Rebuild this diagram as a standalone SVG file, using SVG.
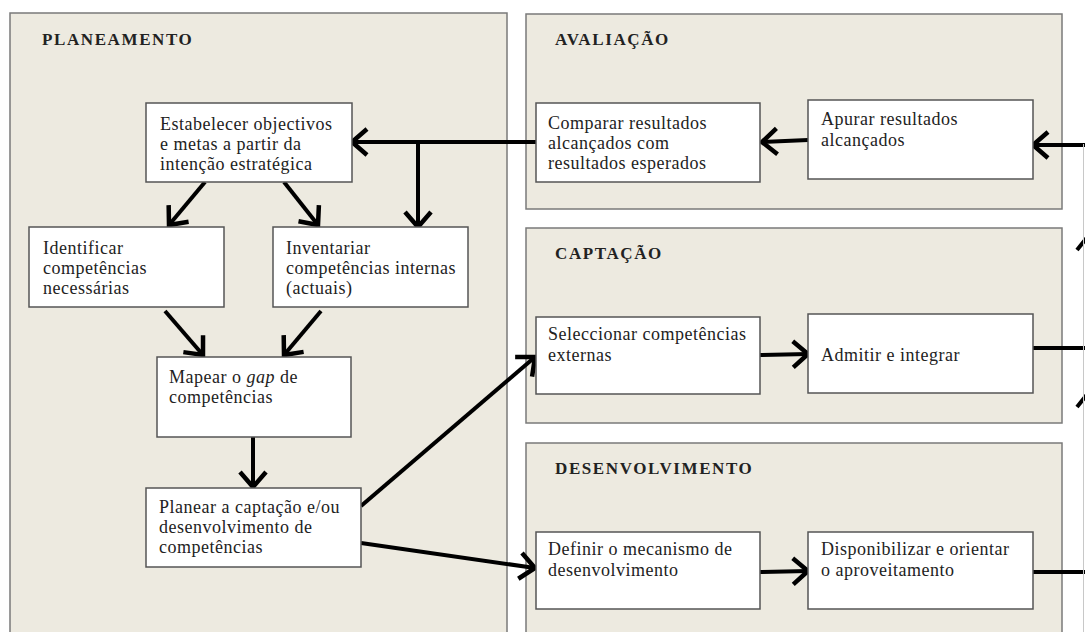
<svg xmlns="http://www.w3.org/2000/svg" width="1085" height="632" viewBox="0 0 1085 632">
<style>
.panel{fill:#EDEAE0;stroke:#7a7a7a;stroke-width:1.5}
.box{fill:#ffffff;stroke:#555555;stroke-width:1.5}
.title{font-family:"Liberation Serif",serif;font-weight:bold;font-size:17px;letter-spacing:1.6px;fill:#222}
.t{font-family:"Liberation Serif",serif;font-size:18px;letter-spacing:0.5px;fill:#222}
.c{fill:none;stroke:#000;stroke-width:4}
.ah{fill:none;stroke:#000;stroke-width:4;stroke-linejoin:miter}
</style>
<defs>
<marker id="arr" markerUnits="userSpaceOnUse" viewBox="-20 -18 26 36" markerWidth="26" markerHeight="36" refX="0" refY="0" orient="auto">
<path d="M-15,-13 L0,0 L-15,13" fill="none" stroke="#000" stroke-width="4.5"/>
</marker>
</defs>
<rect width="1085" height="632" fill="#ffffff"/>
<g id="panels">
<g id="planeamento"><rect class="panel" x="10" y="13" width="497" height="640"/><text class="title" x="42" y="45">PLANEAMENTO</text></g>
<g id="avaliacao"><rect class="panel" x="526" y="14" width="536" height="195"/><text class="title" x="555" y="45">AVALIAÇÃO</text></g>
<g id="captacao"><rect class="panel" x="526" y="228" width="536" height="195"/><text class="title" x="555" y="259">CAPTAÇÃO</text></g>
<g id="desenvolvimento"><rect class="panel" x="526" y="443" width="536" height="210"/><text class="title" x="555" y="474">DESENVOLVIMENTO</text></g>
</g>
<g id="connectors">
<path class="c" d="M536,142 L352,142" marker-end="url(#arr)"/>
<path class="c" d="M418,142 L418,227" marker-end="url(#arr)"/>
<path class="c" d="M205,182 L169,225" marker-end="url(#arr)"/>
<path class="c" d="M284,182 L318,225" marker-end="url(#arr)"/>
<path class="c" d="M165,311 L203,355" marker-end="url(#arr)"/>
<path class="c" d="M321,311 L284,355" marker-end="url(#arr)"/>
<path class="c" d="M253,437 L253,487" marker-end="url(#arr)"/>
<path class="c" d="M361,506 L535,357" marker-end="url(#arr)"/>
<path class="c" d="M361,543 L535,568" marker-end="url(#arr)"/>
<path class="c" d="M808,140 L762,142" marker-end="url(#arr)"/>
<path class="c" d="M1095,145 L1033,145" marker-end="url(#arr)"/>
<path class="c" d="M760,355 L808,354" marker-end="url(#arr)"/>
<path class="c" d="M760,572 L808,571" marker-end="url(#arr)"/>
<path class="c" d="M1033,348 L1095,348"/>
<path class="c" d="M1033,572 L1095,572"/>
<path class="c" d="M1090,640 L1090,145"/>
<path class="ah" d="M1077,250 L1089,235 L1101,250"/>
<path class="ah" d="M1077,407 L1089,392 L1101,407"/>
<path d="M1083.5,144 L1083.5,632" stroke="#c8c8c8" stroke-width="1" fill="none"/>
</g>
<g id="n-estabelecer"><rect class="box" x="146" y="103" width="206" height="79"/>
<text class="t" x="160" y="130">Estabelecer objectivos</text><text class="t" x="160" y="150">e metas a partir da</text><text class="t" x="160" y="170">intenção estratégica</text></g>
<g id="n-identificar"><rect class="box" x="29" y="227" width="195" height="80"/>
<text class="t" x="43" y="254">Identificar</text><text class="t" x="43" y="274">competências</text><text class="t" x="43" y="294">necessárias</text></g>
<g id="n-inventariar"><rect class="box" x="273" y="227" width="195" height="80"/>
<text class="t" x="286" y="254">Inventariar</text><text class="t" x="286" y="274">competências internas</text><text class="t" x="286" y="294">(actuais)</text></g>
<g id="n-mapear"><rect class="box" x="157" y="357" width="194" height="80"/>
<text class="t" x="169" y="383">Mapear o <tspan font-style="italic">gap</tspan> de</text><text class="t" x="169" y="403">competências</text></g>
<g id="n-planear"><rect class="box" x="146" y="488" width="215" height="79"/>
<text class="t" x="159" y="513">Planear a captação e/ou</text><text class="t" x="159" y="533">desenvolvimento de</text><text class="t" x="159" y="553">competências</text></g>
<g id="n-comparar"><rect class="box" x="536" y="103" width="224" height="79"/>
<text class="t" x="548" y="129">Comparar resultados</text><text class="t" x="548" y="149">alcançados com</text><text class="t" x="548" y="169">resultados esperados</text></g>
<g id="n-apurar"><rect class="box" x="808" y="100" width="225" height="79"/>
<text class="t" x="821" y="125">Apurar resultados</text><text class="t" x="821" y="146">alcançados</text></g>
<g id="n-seleccionar"><rect class="box" x="536" y="317" width="224" height="77"/>
<text class="t" x="548" y="340">Seleccionar competências</text><text class="t" x="548" y="361">externas</text></g>
<g id="n-admitir"><rect class="box" x="808" y="314" width="225" height="79"/>
<text class="t" x="821" y="361">Admitir e integrar</text></g>
<g id="n-definir"><rect class="box" x="536" y="532" width="224" height="77"/>
<text class="t" x="548" y="555">Definir o mecanismo de</text><text class="t" x="548" y="576">desenvolvimento</text></g>
<g id="n-disponibilizar"><rect class="box" x="808" y="532" width="225" height="77"/>
<text class="t" x="821" y="555">Disponibilizar e orientar</text><text class="t" x="821" y="576">o aproveitamento</text></g>
</svg>
